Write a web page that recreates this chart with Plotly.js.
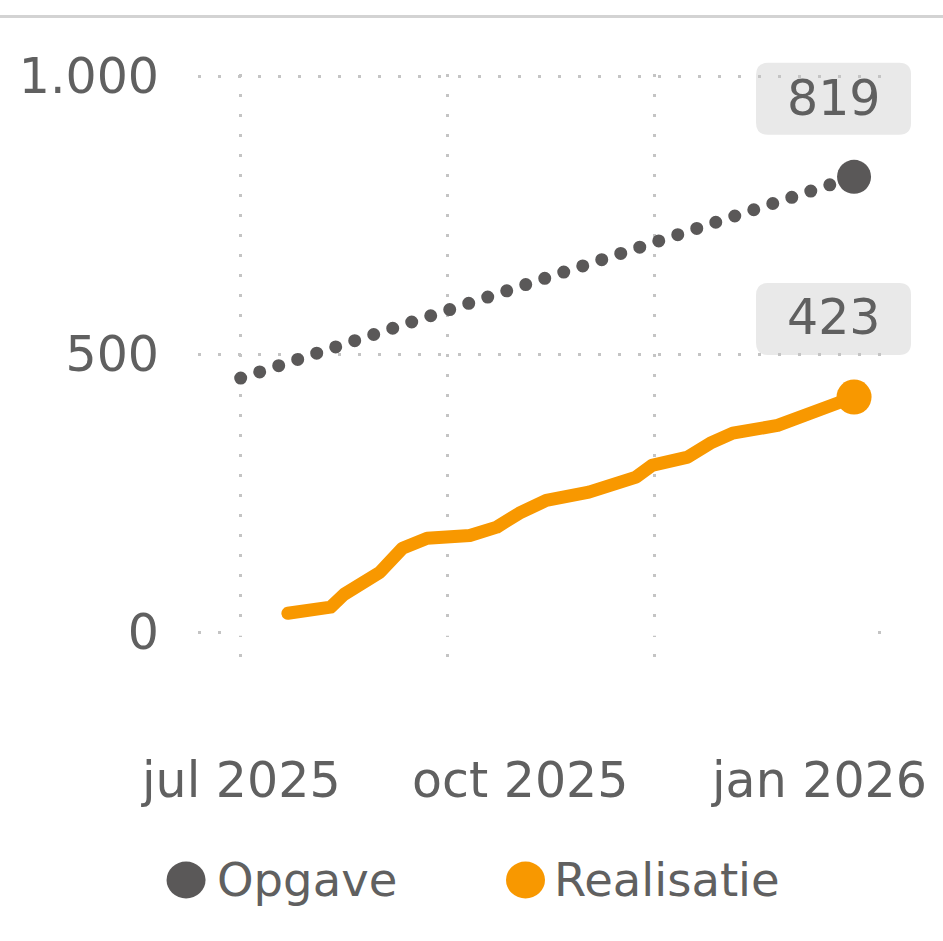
<!DOCTYPE html>
<html>
<head>
<meta charset="utf-8">
<script src="https://cdn.plot.ly/plotly-3.0.1.min.js"></script>
<style>
html, body { margin: 0; padding: 0; background: #ffffff; }
#chart { width: 943px; height: 941px; }
.scatterlayer .js-line { stroke-linecap: round !important; stroke-linejoin: round !important; }
</style>
</head>
<body>
<div id="chart"></div>
<script>
// ---- data ----
const opgaveDates = ['2025-07-01', '2026-03-31'];
const opgaveValues = [457, 819];

const realisatieDates = ['2025-07-22', '2025-08-10', '2025-08-16', '2025-09-01', '2025-09-11',
  '2025-09-22', '2025-10-11', '2025-10-23', '2025-11-02', '2025-11-14', '2025-12-03',
  '2025-12-24', '2025-12-31', '2026-01-16', '2026-01-26', '2026-02-05', '2026-02-25',
  '2026-03-10', '2026-03-19', '2026-03-31'];
const realisatieValues = [34, 45, 68, 108, 151, 169, 174, 189, 214, 237, 252,
  279, 300, 315, 340, 358, 372, 394, 405, 423];

const seriesNames = ['Opgave', 'Realisatie'];
const xGridDates = ['2025-07-01', '2025-10-01', '2026-01-01'];
const xTickLabels = ['jul 2025', 'oct 2025', 'jan 2026'];
const yTickValues = [0, 500, 1000];

// ---- styles ----
const GREY = '#5a5858';
const ORANGE = '#F89800';
const TEXT = '#606060';
const FONT = 'DejaVu Sans, Verdana, sans-serif';
const xTickLabelPos = [0.063, 0.4714, 0.9092];
const X_RANGE = ['2025-06-12', '2026-04-12'];
const Y_RANGE = [-50, 1004];

const last = a => a[a.length - 1];
const ms = d => new Date(d + 'T00:00:00Z').getTime();
const xPaper = d => (ms(d) - ms(X_RANGE[0])) / (ms(X_RANGE[1]) - ms(X_RANGE[0]));
const yPaper = v => (v - Y_RANGE[0]) / (Y_RANGE[1] - Y_RANGE[0]);

const traces = [
  { x: opgaveDates, y: opgaveValues, mode: 'lines', name: seriesNames[0],
    line: { color: GREY, width: 13, dash: '0px,20px' }, showlegend: false, hoverinfo: 'skip' },
  { x: realisatieDates, y: realisatieValues, mode: 'lines', name: seriesNames[1],
    line: { color: ORANGE, width: 13 }, showlegend: false, hoverinfo: 'skip' },
  { x: [last(opgaveDates)], y: [last(opgaveValues)], mode: 'markers', name: seriesNames[0],
    marker: { color: GREY, size: 34 }, showlegend: false },
  { x: [last(realisatieDates)], y: [last(realisatieValues)], mode: 'markers', name: seriesNames[1],
    marker: { color: ORANGE, size: 35 }, showlegend: false }
];

function roundBox(d, v) {
  const p = 'M -86,42 L 45,42 Q 57,42 57,54 L 57,102 Q 57,114 45,114 L -86,114 Q -98,114 -98,102 L -98,54 Q -98,42 -86,42 Z';
  return { type: 'path', layer: 'below', xref: 'paper', yref: 'paper', xsizemode: 'pixel', ysizemode: 'pixel',
    xanchor: xPaper(d), yanchor: yPaper(v), path: p, fillcolor: '#e9e9e9', line: { width: 0 } };
}

const shapes = [
  roundBox(last(opgaveDates), last(opgaveValues)),
  roundBox(last(realisatieDates), last(realisatieValues)),
  // mask over zero line
  { type: 'line', layer: 'above', xref: 'paper', yref: 'y', x0: 0.04, x1: 0.99, y0: 0, y1: 0,
    line: { color: '#ffffff', width: 7 } },
  // header line
  { type: 'line', xref: 'paper', yref: 'paper', x0: -0.3, x1: 1.1, y0: 1.098, y1: 1.098,
    line: { color: '#d3d3d3', width: 3 } },
  // legend circles
  { type: 'circle', xref: 'paper', yref: 'paper', xsizemode: 'pixel', ysizemode: 'pixel',
    xanchor: -0.0175, yanchor: -0.3754, x0: -19.5, x1: 19.5, y0: -18.5, y1: 18.5, fillcolor: GREY, line: { width: 0 } },
  { type: 'circle', xref: 'paper', yref: 'paper', xsizemode: 'pixel', ysizemode: 'pixel',
    xanchor: 0.4795, yanchor: -0.3754, x0: -19.5, x1: 19.5, y0: -18.5, y1: 18.5, fillcolor: ORANGE, line: { width: 0 } }
];

const annotations = [
  { x: last(opgaveDates), y: last(opgaveValues), xref: 'x', yref: 'y', text: String(last(opgaveValues)),
    showarrow: false, xshift: -20, yshift: 78, font: { family: FONT, size: 49, color: TEXT } },
  { x: last(realisatieDates), y: last(realisatieValues), xref: 'x', yref: 'y', text: String(last(realisatieValues)),
    showarrow: false, xshift: -20, yshift: 80, font: { family: FONT, size: 49, color: TEXT } },
  { x: 0.0248, y: -0.3754, xref: 'paper', yref: 'paper', xanchor: 'left', yanchor: 'middle',
    text: seriesNames[0], showarrow: false, font: { family: FONT, size: 46.5, color: TEXT } },
  { x: 0.5183, y: -0.3754, xref: 'paper', yref: 'paper', xanchor: 'left', yanchor: 'middle',
    text: seriesNames[1], showarrow: false, font: { family: FONT, size: 46.5, color: TEXT } }
];
xTickLabels.forEach((t, i) => annotations.push({
  x: xTickLabelPos[i], y: -0.2048, xref: 'paper', yref: 'paper', xanchor: 'center', yanchor: 'middle',
  text: t, showarrow: false, font: { family: FONT, size: 49, color: TEXT }
}));

const layout = {
  width: 943, height: 941,
  margin: { l: 198, r: 62, t: 74, b: 281 },
  paper_bgcolor: '#ffffff', plot_bgcolor: '#ffffff',
  separators: ',.',
  showlegend: false,
  font: { family: FONT, color: TEXT },
  xaxis: {
    type: 'date', range: X_RANGE,
    tickvals: xGridDates, showticklabels: false, ticks: '',
    showgrid: true, gridcolor: '#c4c4c4', gridwidth: 3, griddash: '3px,17px',
    zeroline: false, showline: false, fixedrange: true
  },
  yaxis: {
    range: Y_RANGE, tickvals: yTickValues, tickformat: ',d', ticks: '',
    ticklabelstandoff: 38,
    tickfont: { family: FONT, size: 49, color: TEXT },
    showgrid: true, gridcolor: '#c4c4c4', gridwidth: 3, griddash: '3px,17px',
    zeroline: false, showline: false, fixedrange: true
  },
  shapes: shapes,
  annotations: annotations
};

Plotly.newPlot('chart', traces, layout, { displayModeBar: false, staticPlot: true });
</script>
</body>
</html>
